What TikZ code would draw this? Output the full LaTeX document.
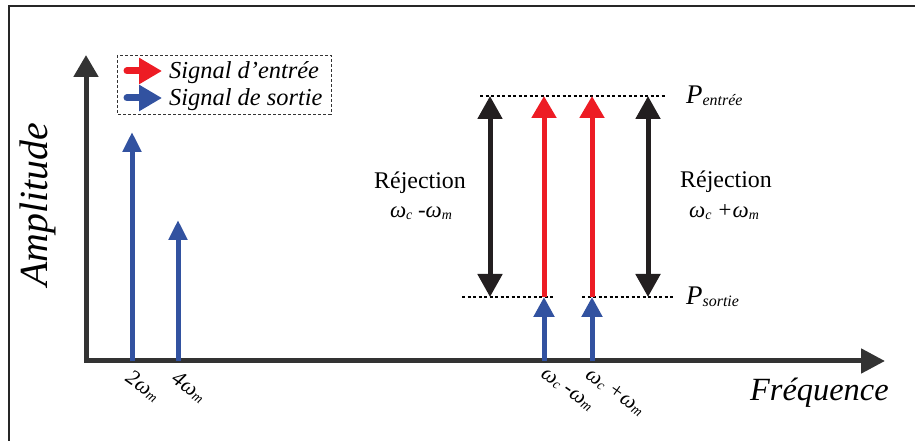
\documentclass[tikz,border=0pt]{standalone}
\usepackage{fontspec}
\setmainfont{Liberation Serif}
\usetikzlibrary{arrows.meta}
\definecolor{sigred}{RGB}{237,28,36}
\definecolor{sigblue}{RGB}{50,82,160}
\definecolor{axisgray}{RGB}{51,51,51}
\definecolor{arrblack}{RGB}{35,31,32}
\newcommand{\lowsub}[2][14]{\raisebox{-1.5bp}{\fontsize{#1}{#1}\selectfont #2}}
\begin{document}
\begin{tikzpicture}[x=1bp,y=-1bp,
 frameline/.style={line width=1.5bp, black!85},
 axisline/.style={line width=5bp, axisgray, line join=miter, {Triangle[length=22bp,width=24bp]}-{Triangle[length=24bp,width=24bp]}},
 bluearrow/.style={line width=5bp, sigblue, -{Triangle[length=20bp,width=18bp]}},
 redarrow/.style={line width=5bp, sigred, -{Triangle[length=22bp,width=24bp]}},
 rejarrow/.style={line width=5bp, arrblack, {Triangle[length=23bp,width=24bp]}-{Triangle[length=23bp,width=24bp]}},
 levelline/.style={line width=1.2bp, black, dash pattern=on 3bp off 2.5bp},
 legendarrow/.style={line width=7bp, line cap=round, -{Triangle[length=23bp,width=25bp]}},
 legbox/.style={line width=0.8bp, black!80, dash pattern=on 3bp off 2bp},
 legtext/.style={inner sep=0, anchor=base west, font=\itshape\fontsize{24.5}{24.5}\selectfont},
 ticklbl/.style={inner sep=0, font=\itshape\fontsize{22}{22}\selectfont},
 rejtext/.style={inner sep=0, font=\fontsize{24}{24}\selectfont},
 rejsub/.style={inner sep=0, font=\itshape\fontsize{23}{23}\selectfont},
 plbl/.style={inner sep=0, anchor=base west, font=\itshape\fontsize{27}{27}\selectfont},
]
\useasboundingbox (0,0) rectangle (915,441);
% frame
\coordinate (fbl) at (9,441);
\coordinate (ftl) at (9,6);
\coordinate (ftr) at (915,6);
\draw[frameline] (fbl) -- (ftl) -- (ftr);

% axes
\coordinate (ytop) at (86,55);
\coordinate (orig) at (86,361);
\coordinate (xend) at (885,361);
\draw[axisline] (ytop) -- (orig) -- (xend);

% legend
\draw[legbox] (117,55) rectangle (331,114);
\coordinate (lr1) at (127,71);
\coordinate (lr2) at (162,71);
\coordinate (lb1) at (127,98);
\coordinate (lb2) at (162,98);
\draw[legendarrow, sigred] (lr1) -- (lr2);
\draw[legendarrow, sigblue] (lb1) -- (lb2);
\node[legtext] (legin) at (169,79) {Signal d’entrée};
\node[legtext] (legout) at (169,106) {Signal de sortie};

% low harmonics
\coordinate (h2b) at (132,361);
\coordinate (h2t) at (132,132);
\coordinate (h4b) at (178,361);
\coordinate (h4t) at (178,220);
\draw[bluearrow] (h2b) -- (h2t);
\draw[bluearrow] (h4b) -- (h4t);

% levels
\coordinate (lt1) at (480,96);
\coordinate (lt2) at (665,96);
\coordinate (lbl1) at (462,297);
\coordinate (lbl2) at (553,297);
\coordinate (lbr1) at (582,297);
\coordinate (lbr2) at (673,297);
\draw[levelline] (lt1) -- (lt2);
\draw[levelline] (lbl1) -- (lbl2);
\draw[levelline] (lbr1) -- (lbr2);

% rejection arrows
\coordinate (rjlt) at (490,96);
\coordinate (rjlb) at (490,297);
\coordinate (rjrt) at (648,96);
\coordinate (rjrb) at (648,297);
\draw[rejarrow] (rjlb) -- (rjlt);
\draw[rejarrow] (rjrb) -- (rjrt);

% side bands
\coordinate (s1b) at (544,361);
\coordinate (s1m) at (544,297);
\coordinate (s1t) at (544,96);
\coordinate (s2b) at (592,361);
\coordinate (s2m) at (592,297);
\coordinate (s2t) at (592,96);
\draw[redarrow] (s1m) -- (s1t);
\draw[redarrow] (s2m) -- (s2t);
\draw[bluearrow, -{Triangle[length=20bp,width=20bp]}] (s1b) -- (s1m);
\draw[bluearrow, -{Triangle[length=20bp,width=20bp]}] (s2b) -- (s2m);

% labels
\node[rejtext] (rejl) at (420,183) {Réjection};
\node[rejsub] (rejlw) at (421,213) {ω\lowsub{c} -ω\lowsub{m}};
\node[rejtext] (rejr) at (726,182) {Réjection};
\node[rejsub] (rejrw) at (724,212) {ω\lowsub{c} +ω\lowsub{m}};
\node[plbl] (pin) at (686,104) {P\lowsub[16]{entrée}};
\node[plbl] (pout) at (686,305) {P\lowsub[16]{sortie}};

\node[ticklbl, rotate=-35] (l2) at (143,386) {2ω\lowsub{m}};
\node[ticklbl, rotate=-35] (l4) at (189,387) {4ω\lowsub{m}};
\node[ticklbl, rotate=-35] (lm) at (567,390) {ω\lowsub{c} -ω\lowsub{m}};
\node[ticklbl, rotate=-35] (lp) at (615,392) {ω\lowsub{c} +ω\lowsub{m}};

\node[rotate=90, inner sep=0, font=\itshape\fontsize{40}{40}\selectfont] (amp) at (38,205) {Amplitude};
\node[inner sep=0, anchor=base west, font=\itshape\fontsize{32.5}{32.5}\selectfont] (freq) at (750,400) {Fréquence};
\end{tikzpicture}
\end{document}
